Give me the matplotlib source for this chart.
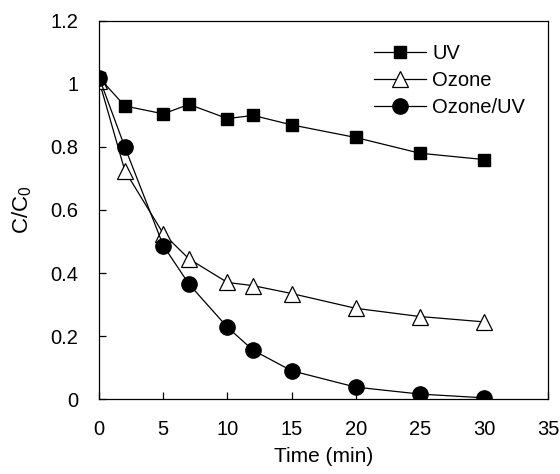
import matplotlib
matplotlib.use("Agg")
import matplotlib.pyplot as plt

plt.rcParams["font.family"] = ["Liberation Sans", "DejaVu Sans"]
plt.rcParams["mathtext.fontset"] = "custom"
plt.rcParams["mathtext.rm"] = "Liberation Sans"

# Data
time_uv = [0, 2, 5, 7, 10, 12, 15, 20, 25, 30]
uv = [1.02, 0.93, 0.905, 0.935, 0.89, 0.90, 0.87, 0.83, 0.78, 0.76]
time_oz = [0, 2, 5, 7, 10, 12, 15, 20, 25, 30]
ozone = [1.01, 0.725, 0.525, 0.445, 0.37, 0.36, 0.335, 0.288, 0.262, 0.245]
time_ozuv = [0, 2, 5, 7, 10, 12, 15, 20, 25, 30]
ozone_uv = [1.02, 0.80, 0.487, 0.365, 0.228, 0.155, 0.09, 0.038, 0.016, 0.004]

fig = plt.figure(figsize=(5.6, 4.74), dpi=100)
ax = fig.add_axes([0.177, 0.158, 0.802, 0.798])

ax.plot(time_uv, uv, color="black", lw=0.9, marker="s", ms=9,
        mfc="black", mec="black", label="UV")
ax.plot(time_oz, ozone, color="black", lw=0.9, marker="^", ms=11.5,
        mfc="white", mec="black", mew=0.9, label="Ozone")
ax.plot(time_ozuv, ozone_uv, color="black", lw=0.9, marker="o", ms=11,
        mfc="black", mec="black", label="Ozone/UV")

ax.set_xlim(0, 35)
ax.set_ylim(0, 1.2)
ax.set_xticks([0, 5, 10, 15, 20, 25, 30, 35])
ax.set_yticks([0, 0.2, 0.4, 0.6, 0.8, 1.0, 1.2])
ax.set_yticklabels(["0", "0.2", "0.4", "0.6", "0.8", "1", "1.2"])
ax.tick_params(direction="in", length=5, width=0.9, labelsize=14.5,
               top=False, right=False)
ax.tick_params(axis="x", pad=15)
ax.tick_params(axis="y", pad=15)
for s in ax.spines.values():
    s.set_linewidth(0.9)

ax.set_xlabel("Time (min)", fontsize=15, labelpad=6)
ax.set_ylabel(r"$\mathregular{C/C_0}$", fontsize=16, labelpad=12)

ax.legend(loc="upper right", bbox_to_anchor=(0.975, 0.97), frameon=False,
          fontsize=14.5, handlelength=2.6, handletextpad=0.3,
          labelspacing=0.4, borderaxespad=0.2)

fig.savefig("out.png", dpi=100)
